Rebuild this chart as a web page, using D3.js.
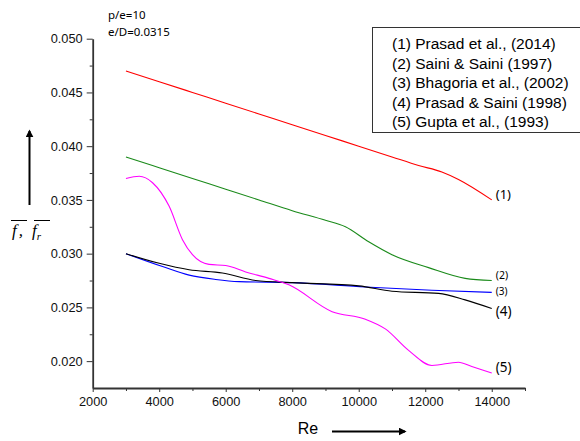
<!DOCTYPE html>
<html>
<head>
<meta charset="utf-8">
<script src="https://cdn.jsdelivr.net/npm/d3@7"></script>
<style>
  body { margin: 0; background: #fff; }
  svg { display: block; }
  .tick text { font-family: "Liberation Sans", Arial, sans-serif; font-size: 12.8px; fill: #111; }
  .axis path, .axis line { stroke: #333; }
</style>
</head>
<body>
<svg width="580" height="441"></svg>
<script>
// Reynolds numbers (x) for each series
const reRed = [3000, 4000, 5000, 6000, 7000, 8000, 9000, 10000, 11000, 11800, 12500, 13000, 14000];
const fRed = [0.0470, 0.0460, 0.0450, 0.0440, 0.0430, 0.0420, 0.0410, 0.0400, 0.0390, 0.0382, 0.0376, 0.0369, 0.0350];

const reGreen = [3000, 4000, 5000, 6000, 7000, 8000, 9000, 9600, 10300, 11000, 12100, 13200, 14000];
const fGreen = [0.0390, 0.0380, 0.0370, 0.0360, 0.0350, 0.0340, 0.0331, 0.0325, 0.0311, 0.0299, 0.0287, 0.0277, 0.0275];

const reBlue = [3000, 4100, 4900, 5700, 6400, 8000, 10200, 12200, 14000];
const fBlue = [0.0300, 0.0288, 0.0280, 0.0276, 0.0274, 0.0273, 0.0269, 0.0266, 0.0264];

const reBlack = [3000, 4000, 4900, 5900, 6900, 8000, 10000, 11000, 12400, 13200, 14000];
const fBlack = [0.0300, 0.0291, 0.0285, 0.0282, 0.0275, 0.0273, 0.0270, 0.0265, 0.0263, 0.0257, 0.0249];

const reMagenta = [3000, 3400, 3800, 4300, 4700, 5000, 5500, 6000, 6600, 7300, 7900, 9200, 10200, 10800, 11500, 12200, 13000, 13400, 14000];
const fMagenta = [0.0370, 0.0372, 0.0366, 0.0344, 0.0313, 0.0299, 0.0290, 0.0289, 0.0283, 0.0277, 0.0271, 0.0246, 0.0239, 0.0230, 0.0210, 0.0196, 0.0199, 0.0195, 0.0189];

const seriesNames = ['(1) Prasad et al., (2014)', '(2) Saini & Saini (1997)', '(3) Bhagoria et al., (2002)',
  '(4) Prasad & Saini (1998)', '(5) Gupta et al., (1993)'];
const endLabels = ['(1)', '(2)', '(3)', '(4)', '(5)'];

const xTicks = [2000, 4000, 6000, 8000, 10000, 12000, 14000];
const yTicks = [0.020, 0.025, 0.030, 0.035, 0.040, 0.045, 0.050];

const series = [
  { re: reRed, f: fRed, color: '#ff0000', label: endLabels[0], size: 13, dy: -4 },
  { re: reGreen, f: fGreen, color: '#1a8a1a', label: endLabels[1], size: 10.5, dy: -4 },
  { re: reBlue, f: fBlue, color: '#0000ff', label: endLabels[2], size: 10, dy: 0 },
  { re: reBlack, f: fBlack, color: '#000000', label: endLabels[3], size: 13.5, dy: 4 },
  { re: reMagenta, f: fMagenta, color: '#ff00ff', label: endLabels[4], size: 13.5, dy: -5 }
];

const svg = d3.select('svg');

const x = d3.scaleLinear().domain([2000, 15000]).range([92.7, 525]);
const y = d3.scaleLinear().domain([0.0175, 0.050]).range([388, 38.7]);

// minor ticks
svg.append('g')
  .attr('class', 'axis')
  .attr('transform', 'translate(0,388)')
  .call(d3.axisBottom(x).tickValues(d3.range(3000, 15001, 2000)).tickSize(3).tickFormat(''))
  .select('.domain').remove();
svg.append('g')
  .attr('class', 'axis')
  .attr('transform', 'translate(92.7,0)')
  .call(d3.axisLeft(y).tickValues([0.0225, 0.0275, 0.0325, 0.0375, 0.0425, 0.0475]).tickSize(3).tickFormat(''))
  .select('.domain').remove();

// major axes
const xAxis = svg.append('g')
  .attr('class', 'axis')
  .attr('transform', 'translate(0,388)')
  .call(d3.axisBottom(x).tickValues(xTicks).tickSize(4).tickSizeOuter(0).tickPadding(5).tickFormat(d3.format('d')));
xAxis.select('.domain').attr('stroke-width', 1.8);

const yAxis = svg.append('g')
  .attr('class', 'axis')
  .attr('transform', 'translate(92.7,0)')
  .call(d3.axisLeft(y).tickValues(yTicks).tickSize(6).tickSizeOuter(0).tickPadding(4).tickFormat(d3.format('.3f')));
yAxis.select('.domain').attr('stroke-width', 1.8);

// curves
const line = d3.line()
  .x(d => x(d[0]))
  .y(d => y(d[1]))
  .curve(d3.curveMonotoneX);

series.forEach(s => {
  const pts = s.re.map((r, i) => [r, s.f[i]]);
  svg.append('path')
    .datum(pts)
    .attr('fill', 'none')
    .attr('stroke', s.color)
    .attr('stroke-width', 1.1)
    .attr('d', line);
  const last = pts[pts.length - 1];
  svg.append('text')
    .attr('x', x(last[0]) + 4)
    .attr('y', y(last[1]) + s.dy)
    .attr('dominant-baseline', 'middle')
    .style('font-family', '"Noto Sans", "Open Sans", sans-serif')
    .style('font-size', s.size + 'px')
    .text(s.label);
});

// legend box
svg.append('rect')
  .attr('x', 372.5)
  .attr('y', 27.5)
  .attr('width', 210)
  .attr('height', 105)
  .attr('fill', '#fff')
  .attr('stroke', '#333')
  .attr('stroke-width', 1);

svg.append('g')
  .selectAll('text')
  .data(seriesNames)
  .join('text')
  .attr('x', 392)
  .attr('y', (d, i) => 45 + i * 19.5)
  .attr('dominant-baseline', 'middle')
  .style('font-family', '"Liberation Sans", Arial, sans-serif')
  .style('font-size', '15.5px')
  .text(d => d);

// parameters
svg.append('text')
  .attr('x', 108)
  .attr('y', 16)
  .attr('dominant-baseline', 'middle')
  .style('font-family', '"Noto Sans", "Open Sans", sans-serif')
  .style('font-size', '11.5px')
  .text('p/e=10');
svg.append('text')
  .attr('x', 108)
  .attr('y', 33)
  .attr('dominant-baseline', 'middle')
  .style('font-family', '"Noto Sans", "Open Sans", sans-serif')
  .style('font-size', '11.5px')
  .text('e/D=0.0315');

// arrow marker
svg.append('defs').append('marker')
  .attr('id', 'arrow')
  .attr('viewBox', '0 0 10 10')
  .attr('refX', 8)
  .attr('refY', 5)
  .attr('markerWidth', 4)
  .attr('markerHeight', 4)
  .attr('orient', 'auto')
  .append('path')
  .attr('d', 'M0,0 L10,5 L0,10 Z')
  .attr('fill', '#000');

// x label
svg.append('text')
  .attr('x', 308)
  .attr('y', 430)
  .attr('text-anchor', 'middle')
  .attr('dominant-baseline', 'middle')
  .style('font-family', '"Liberation Sans", Arial, sans-serif')
  .style('font-size', '16px')
  .text('Re');
svg.append('line')
  .attr('x1', 332).attr('y1', 431.5)
  .attr('x2', 405).attr('y2', 431.5)
  .attr('stroke', '#000')
  .attr('stroke-width', 2)
  .attr('marker-end', 'url(#arrow)');

// y label
svg.append('line')
  .attr('x1', 29.5).attr('y1', 205)
  .attr('x2', 29.5).attr('y2', 131)
  .attr('stroke', '#000')
  .attr('stroke-width', 2)
  .attr('marker-end', 'url(#arrow)');

const ylab = svg.append('text')
  .attr('x', 12)
  .attr('y', 236)
  .style('font-family', '"Liberation Serif", "Times New Roman", serif')
  .style('font-style', 'italic')
  .style('font-size', '17px');
ylab.append('tspan').text('f');
ylab.append('tspan').attr('dx', 2).text(',');
ylab.append('tspan').attr('dx', 9).text('f');
ylab.append('tspan').attr('dy', 4).style('font-size', '11px').text('r');

svg.append('line').attr('x1', 11).attr('x2', 27).attr('y1', 220.5).attr('y2', 220.5).attr('stroke', '#000').attr('stroke-width', 1);
svg.append('line').attr('x1', 34).attr('x2', 50).attr('y1', 220.5).attr('y2', 220.5).attr('stroke', '#000').attr('stroke-width', 1);
</script>
</body>
</html>
